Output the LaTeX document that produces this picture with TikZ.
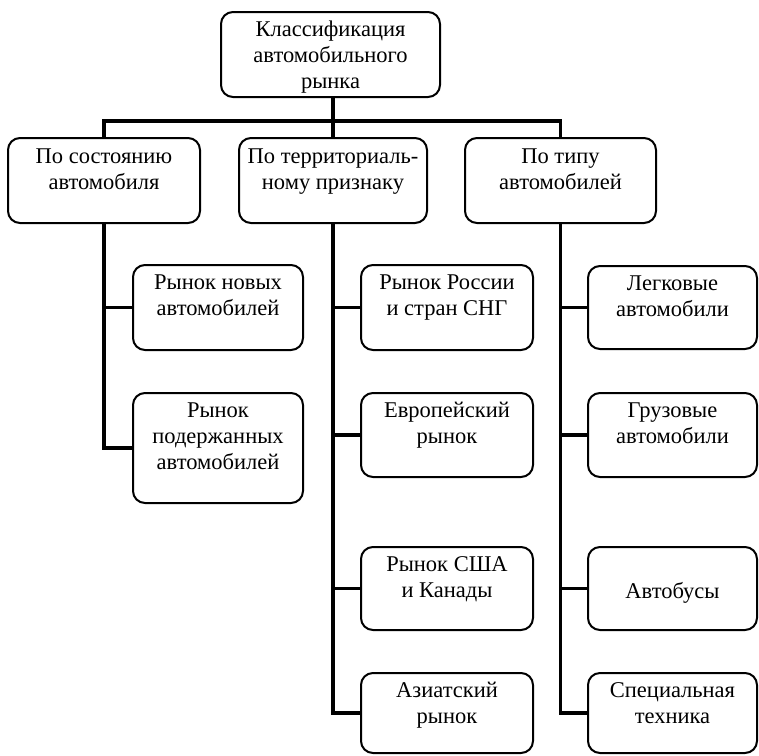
\documentclass[tikz,border=0pt]{standalone}
\usepackage{fontspec}
\setmainfont{Liberation Serif}
\newcommand\mkbox[7]{%
  \node[box, minimum width={#4pt-#2pt}, minimum height={#5pt-#3pt}] (#1) at ({(#2+#4)/2},{(#3+#5)/2}) {};
  \node[txt] (#1-t) at ([yshift={18.2pt-#6pt}]#1.north) {#7};
}
\begin{document}
\begin{tikzpicture}[x=1pt,y=-1pt,
  box/.style={draw, line width=2pt, rounded corners=12pt, inner sep=0pt, outer sep=0pt},
  txt/.style={anchor=north, inner sep=0pt, align=center, font=\fontsize{22.5}{26}\selectfont, execute at begin node=\strut},
  conn/.style={line width=3.2pt, line join=miter}]
\useasboundingbox (0,0) rectangle (759,755);

\mkbox{T}{221}{12}{440}{97}{27}{Классификация\\автомобильного\\рынка}
\mkbox{L1}{8}{138}{200}{223}{28.5}{По состоянию\\автомобиля}
\mkbox{L2}{239}{138}{427}{223}{28.5}{По территориаль-\\ному признаку}
\mkbox{L3}{465}{138}{656}{223}{28.5}{По типу\\автомобилей}

\mkbox{A1}{133}{265}{303}{350}{27.5}{Рынок новых\\автомобилей}
\mkbox{A2}{133}{393}{303}{503}{27.5}{Рынок\\подержанных\\автомобилей}

\mkbox{B1}{361}{265}{533}{350}{27.5}{Рынок России\\и стран СНГ}
\mkbox{B2}{361}{393}{533}{477}{27.5}{Европейский\\рынок}
\mkbox{B3}{361}{547}{533}{630}{27.5}{Рынок США\\и Канады}
\mkbox{B4}{361}{673}{533}{753}{27.5}{Азиатский\\рынок}

\mkbox{C1}{588}{266}{757}{349}{27.5}{Легковые\\автомобили}
\mkbox{C2}{588}{393}{757}{477}{27.5}{Грузовые\\автомобили}
\mkbox{C3}{588}{547}{757}{630}{51}{Автобусы}
\mkbox{C4}{588}{673}{757}{753}{27.5}{Специальная\\техника}

\coordinate (hb) at (333,121);
\draw[conn] (L2.north |- T.south) -- (L2.north);
\draw[conn] (L1.north) -- (L1.north |- hb) -- (L3.north |- hb) -- (L3.north);

\draw[conn] (L1.south) |- (A1.west);
\draw[conn] (L1.south) |- (A2.west);

\draw[conn] (L2.south) |- (B1.west);
\draw[conn] (L2.south) |- (B2.west);
\draw[conn] (L2.south) |- (B3.west);
\draw[conn] (L2.south) |- (B4.west);

\draw[conn] (L3.south) |- (C1.west);
\draw[conn] (L3.south) |- (C2.west);
\draw[conn] (L3.south) |- (C3.west);
\draw[conn] (L3.south) |- (C4.west);
\end{tikzpicture}
\end{document}
